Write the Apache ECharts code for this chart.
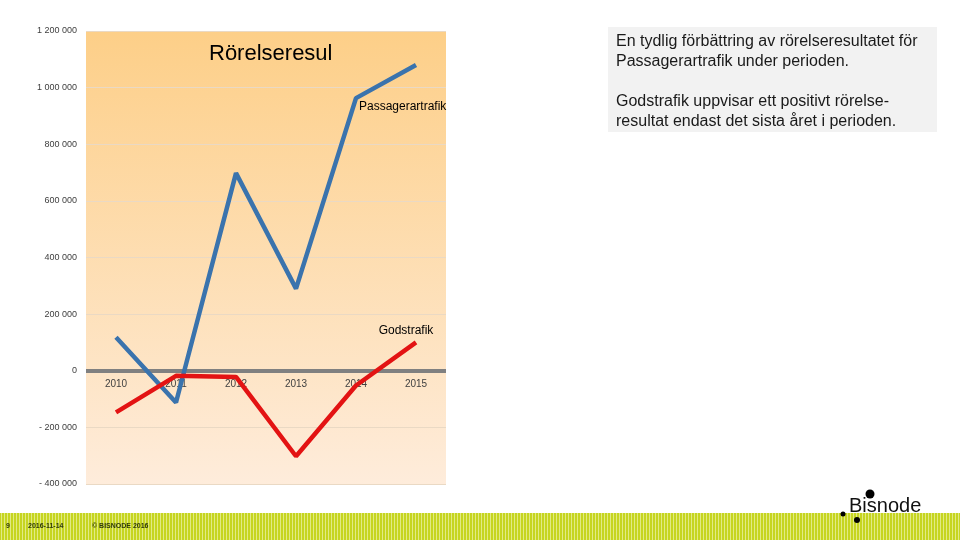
<!DOCTYPE html>
<html>
<head>
<meta charset="utf-8">
<script src="https://cdn.jsdelivr.net/npm/echarts@6/dist/echarts.min.js"></script>
<style>
  html, body { margin: 0; padding: 0; background: #fff; }
  #chart { width: 960px; height: 540px; }
</style>
</head>
<body>
<div id="chart"></div>
<script>
  // data
  const years = ['2010', '2011', '2012', '2013', '2014', '2015']
  const passager = [118000, -112000, 698000, 290000, 963000, 1080000]
  const gods = [-147000, -18000, -22000, -302000, -52000, 100000]
  const yTicks = [-400000, -200000, 0, 200000, 400000, 600000, 800000, 1000000, 1200000]

  // "1 200 000" / "- 200 000" like the swedish excel axis
  function fmt(v) {
    let s = Math.abs(v).toString().replace(/\B(?=(\d{3})+(?!\d))/g, ' ')
    return v < 0 ? '- ' + s : s
  }

  // stripes for the green footer band
  function stripePattern() {
    const c = document.createElement('canvas')
    c.width = 6
    c.height = 6
    const ctx = c.getContext('2d')
    ctx.fillStyle = '#c6d520'
    ctx.fillRect(0, 0, 6, 6)
    ctx.fillStyle = '#e2ea84'
    ctx.fillRect(1, 0, 1, 6)
    ctx.fillRect(4, 0, 1, 6)
    return c
  }

  const gridTop = 31
  const gridBottom = 56
  const gridH = 540 - gridTop - gridBottom
  // move the category axis up to the zero line
  const zeroOffset = gridH * (0 - yTicks[0]) / (yTicks[yTicks.length - 1] - yTicks[0])

  const chart = echarts.init(document.getElementById('chart'), null, {renderer: 'canvas'})

  const passData = passager.map((v, i) => i === 4 ? {
    value: v,
    label: {show: true, formatter: 'Passagerartrafik', position: 'right', offset: [-2, 9], color: '#000', fontSize: 12}
  } : v)
  const godsData = gods.map((v, i) => i === 5 ? {
    value: v,
    label: {show: true, formatter: 'Godstrafik', position: 'top', offset: [-10, -1], color: '#000', fontSize: 12}
  } : v)

  chart.setOption({
    animation: false,
    textStyle: {fontFamily: 'Liberation Sans, Arial, sans-serif'},
    title: {
      text: 'Rörelseresul',
      left: 204,
      top: 38,
      textStyle: {fontSize: 22, fontWeight: 'normal', color: '#000'}
    },
    grid: {
      left: 86,
      right: 514,
      top: gridTop,
      bottom: gridBottom,
      show: true,
      borderWidth: 0,
      backgroundColor: {
        type: 'linear', x: 0, y: 0, x2: 0, y2: 1,
        colorStops: [
          {offset: 0, color: '#fdcf88'},
          {offset: 1, color: '#feecdb'}
        ]
      }
    },
    xAxis: {
      type: 'category',
      data: years,
      boundaryGap: true,
      offset: -zeroOffset,
      axisLine: {show: true, onZero: false, lineStyle: {color: '#808080', width: 4, cap: 'butt'}},
      axisTick: {show: false},
      axisLabel: {color: '#404040', fontSize: 10, margin: 8}
    },
    yAxis: {
      type: 'value',
      min: yTicks[0],
      max: yTicks[yTicks.length - 1],
      interval: 200000,
      axisLine: {show: false},
      axisTick: {show: false},
      axisLabel: {color: '#404040', fontSize: 9, margin: 9, formatter: fmt},
      splitLine: {lineStyle: {color: '#ead9c4', width: 1}}
    },
    graphic: [
      // footer band
      {type: 'rect', shape: {x: 0, y: 513, width: 960, height: 27}, style: {fill: {image: stripePattern(), repeat: 'repeat'}}, z: 1},
      {type: 'text', left: 6, top: 523, style: {text: '9', fontSize: 7, fill: '#2f3a0a', fontWeight: 'bold'}, z: 2},
      {type: 'text', left: 28, top: 523, style: {text: '2016-11-14', fontSize: 7, fill: '#2f3a0a', fontWeight: 'bold'}, z: 2},
      {type: 'text', left: 92, top: 523, style: {text: '© BISNODE 2016', fontSize: 7, fill: '#2f3a0a', fontWeight: 'bold'}, z: 2},
      // bisnode logo
      {type: 'text', left: 849, top: 496, style: {text: 'Bisnode', fontSize: 20, fill: '#111', fontFamily: 'Liberation Sans, Arial'}, z: 3},
      {type: 'circle', shape: {cx: 870, cy: 494, r: 4.5}, style: {fill: '#000'}, z: 3},
      {type: 'circle', shape: {cx: 843, cy: 514, r: 2.5}, style: {fill: '#000'}, z: 3},
      {type: 'circle', shape: {cx: 857, cy: 520, r: 3}, style: {fill: '#000'}, z: 3},
      // comment box
      {type: 'rect', shape: {x: 608, y: 27, width: 329, height: 105}, style: {fill: '#f2f2f2'}, z: 1},
      {
        type: 'text', left: 616, top: 32, z: 2,
        style: {
          text: 'En tydlig förbättring av rörelseresultatet för\nPassagerartrafik under perioden.\n\nGodstrafik uppvisar ett positivt rörelse-\nresultat endast det sista året i perioden.',
          fontSize: 16, lineHeight: 20, fill: '#1a1a1a', fontFamily: 'Liberation Sans, Arial'
        }
      }
    ],
    series: [
      {
        name: 'Passagerartrafik',
        type: 'line',
        data: passData,
        symbol: 'circle',
        symbolSize: 0,
        showSymbol: true,
        lineStyle: {color: '#3a73ad', width: 4.5},
        itemStyle: {color: '#3a73ad'},
        z: 3
      },
      {
        name: 'Godstrafik',
        type: 'line',
        data: godsData,
        symbol: 'circle',
        symbolSize: 0,
        showSymbol: true,
        lineStyle: {color: '#e31313', width: 4.5},
        itemStyle: {color: '#e31313'},
        z: 4
      }
    ]
  })
</script>
</body>
</html>
